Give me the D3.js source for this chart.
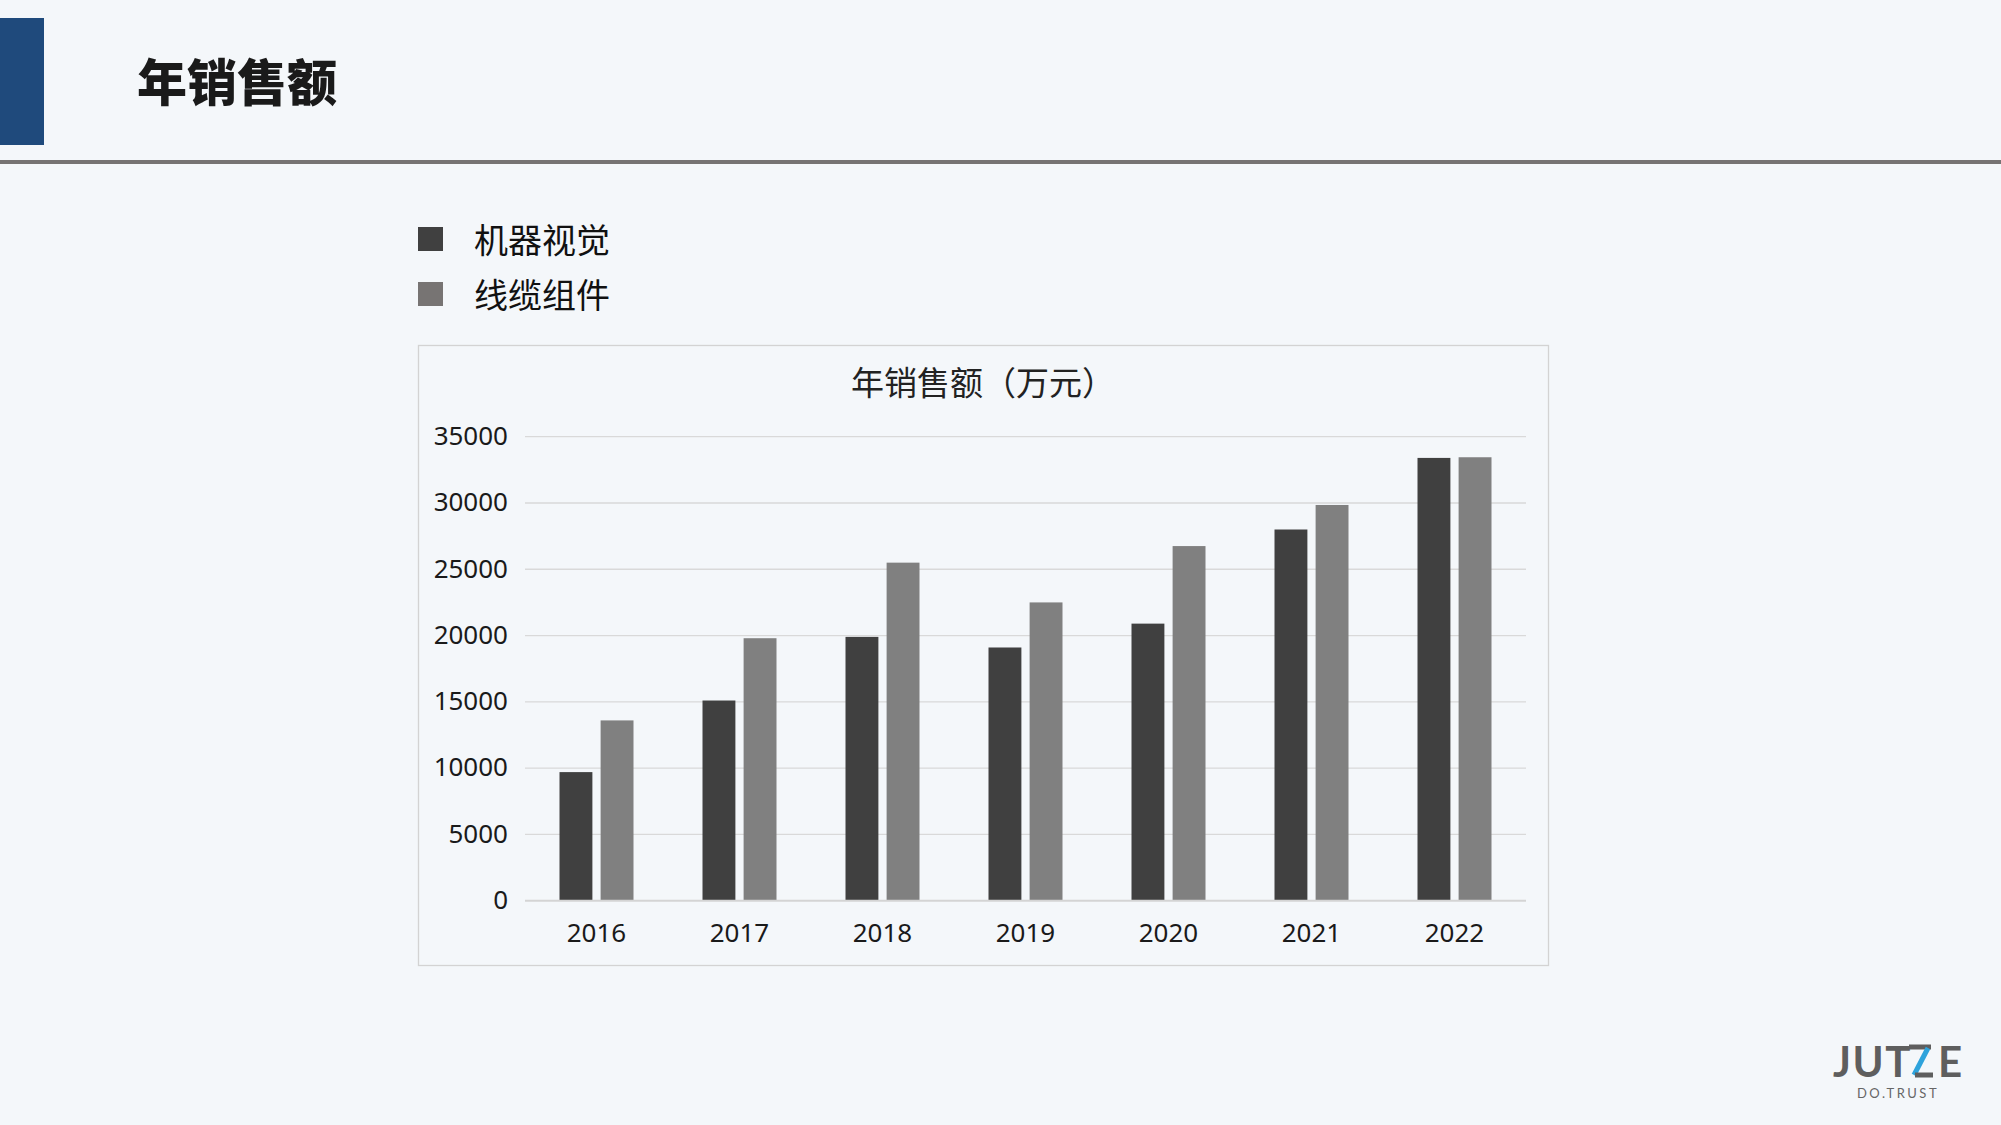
<!DOCTYPE html>
<html>
<head>
<meta charset="utf-8">
<script src="https://cdn.jsdelivr.net/npm/d3@7"></script>
<style>
  html, body { margin: 0; padding: 0; background: #f4f7fa; }
  svg { display: block; }
</style>
</head>
<body>
<svg id="c" width="2001" height="1125"></svg>
<script>
// ---- data ----
const pageTitle = "年销售额";
const chartTitle = "年销售额（万元）";
const years = ["2016", "2017", "2018", "2019", "2020", "2021", "2022"];
const seriesNames = ["机器视觉", "线缆组件"];
const machineVision = [9700, 15100, 19900, 19100, 20900, 28000, 33400];
const cableAssembly = [13600, 19800, 25500, 22500, 26750, 29850, 33450];
const yTicks = [0, 5000, 10000, 15000, 20000, 25000, 30000, 35000];
const seriesColors = ["#404040", "#808080"];
const legendColors = ["#404040", "#777473"];

const svg = d3.select("#c");
const latin = "'Segoe UI', 'Noto Sans', 'Open Sans', sans-serif";
const cjk = "'Noto Sans CJK SC', 'Noto Sans', sans-serif";

// ---- slide header ----
svg.append("rect").attr("x", 0).attr("y", 18).attr("width", 44).attr("height", 127).attr("fill", "#1f4a7c");
svg.append("text").attr("x", 137).attr("y", 101)
  .attr("font-family", cjk).attr("font-weight", 900).attr("font-size", 50)
  .attr("fill", "#1a1a1a").text(pageTitle);
svg.append("rect").attr("x", 0).attr("y", 160).attr("width", 2001).attr("height", 4).attr("fill", "#767373");

// ---- legend ----
const legend = svg.append("g");
seriesNames.forEach((name, i) => {
  const y0 = 227 + i * 55;
  legend.append("rect").attr("x", 418).attr("y", y0).attr("width", 25).attr("height", 24).attr("fill", legendColors[i]);
  legend.append("text").attr("x", 474).attr("y", y0 + 26)
    .attr("font-family", cjk).attr("font-size", 34).attr("fill", "#111").text(name);
});

// ---- chart box ----
svg.append("rect").attr("x", 418.5).attr("y", 345.5).attr("width", 1130).attr("height", 620)
  .attr("fill", "none").attr("stroke", "#d3d3d3").attr("stroke-width", 1.3);

svg.append("text").attr("x", 983).attr("y", 395).attr("text-anchor", "middle")
  .attr("font-family", cjk).attr("font-size", 33).attr("fill", "#222").text(chartTitle);

// ---- scales ----
const plotL = 525, plotR = 1526, plotTop = 436.7, plotBot = 900.7;
const y = d3.scaleLinear().domain([0, 35000]).range([plotBot, plotTop]);
const x0 = d3.scaleBand().domain(years).range([plotL, plotR]).paddingInner(0.4825).paddingOuter(0.24125);
const x1 = d3.scaleBand().domain(seriesNames).range([0, x0.bandwidth()]).paddingInner(0.2);

// gridlines
svg.append("g").selectAll("line").data(yTicks.filter(d => d > 0)).join("line")
  .attr("x1", plotL).attr("x2", plotR)
  .attr("y1", d => y(d)).attr("y2", d => y(d))
  .attr("stroke", "#d9d9d9").attr("stroke-width", 1.3);

// bars
const rows = years.map((yr, i) => ({ year: yr, values: [machineVision[i], cableAssembly[i]] }));
const g = svg.append("g");
g.selectAll("g").data(rows).join("g")
  .attr("transform", d => `translate(${x0(d.year)},0)`)
  .selectAll("rect").data(d => d.values.map((v, j) => ({ v, name: seriesNames[j], j })))
  .join("rect")
  .attr("x", d => x1(d.name))
  .attr("width", x1.bandwidth())
  .attr("y", d => y(d.v))
  .attr("height", d => y(0) - y(d.v))
  .attr("fill", d => seriesColors[d.j]);

// baseline
svg.append("line").attr("x1", plotL).attr("x2", plotR).attr("y1", y(0)).attr("y2", y(0))
  .attr("stroke", "#d4d4d4").attr("stroke-width", 2);

// y axis labels
const yAxis = d3.axisLeft(y).tickValues(yTicks).tickSize(0).tickPadding(0).tickFormat(d => String(d));
const ya = svg.append("g").attr("transform", "translate(508,0)").call(yAxis);
ya.select(".domain").remove();
ya.selectAll("text").attr("font-family", latin).attr("font-size", 26).attr("fill", "#1a1a1a").attr("dy", "0.3em");

// x axis labels
const xAxis = d3.axisBottom(x0).tickSize(0).tickPadding(0);
const xa = svg.append("g").attr("transform", `translate(0,${plotBot})`).call(xAxis);
xa.select(".domain").remove();
xa.selectAll("text").attr("font-family", latin).attr("font-size", 26).attr("fill", "#1a1a1a").attr("dy", "1.6em");

// ---- logo ----
const logo = svg.append("g");
logo.append("text").attr("x", 1833).attr("y", 1077)
  .attr("font-family", "'Lato', 'DejaVu Sans', sans-serif").attr("font-weight", 700).attr("font-size", 42)
  .attr("fill", "#5e5e5e").attr("letter-spacing", 1.5).text("JUT");
logo.append("path").attr("d", "M1909,1047 H1931").attr("stroke", "#5e5e5e").attr("stroke-width", 5);
logo.append("path").attr("d", "M1928,1048 L1914,1075").attr("stroke", "#2ea3dc").attr("stroke-width", 5);
logo.append("path").attr("d", "M1915,1075 H1933").attr("stroke", "#5e5e5e").attr("stroke-width", 5);
logo.append("text").attr("x", 1938).attr("y", 1077)
  .attr("font-family", "'Lato', 'DejaVu Sans', sans-serif").attr("font-weight", 700).attr("font-size", 42)
  .attr("fill", "#5e5e5e").text("E");
logo.append("text").attr("x", 1898).attr("y", 1098).attr("text-anchor", "middle")
  .attr("font-family", "'Lato', 'DejaVu Sans', sans-serif").attr("font-size", 13)
  .attr("fill", "#666").attr("letter-spacing", 2.5).text("DO.TRUST");
</script>
</body>
</html>
